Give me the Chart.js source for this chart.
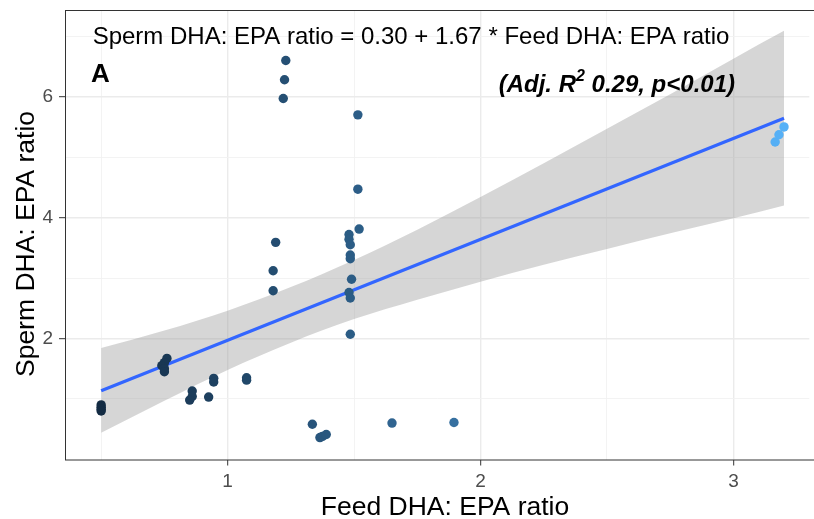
<!DOCTYPE html>
<html>
<head>
<meta charset="utf-8">
<script src="https://cdn.jsdelivr.net/npm/chart.js@4.4.1/dist/chart.umd.min.js"></script>
<style>
  html, body { margin: 0; padding: 0; background: #fff; }
</style>
</head>
<body>
<canvas id="chart_1" width="814" height="519"></canvas>
<script>
// points
const feedRatio = [
  0.50, 0.50, 0.50, 0.50,
  0.76, 0.75, 0.74, 0.75, 0.75,
  0.86, 0.86, 0.85, 0.925, 0.945, 0.945, 1.075, 1.075,
  1.19, 1.18, 1.18, 1.23, 1.225, 1.22,
  1.335, 1.365, 1.375, 1.39,
  1.48, 1.48, 1.485, 1.485, 1.485, 1.49, 1.48, 1.485, 1.485,
  1.515, 1.515, 1.52,
  1.65, 1.895,
  3.165, 3.18, 3.20,
];
const spermRatio = [
  0.90, 0.86, 0.83, 0.80,
  1.67, 1.60, 1.55, 1.50, 1.45,
  1.13, 1.04, 0.98, 1.03, 1.34, 1.28, 1.35, 1.31,
  3.59, 3.12, 2.79, 6.60, 6.28, 5.97,
  0.58, 0.36, 0.38, 0.41,
  3.72, 3.64, 3.55, 3.38, 3.32, 2.98, 2.76, 2.67, 2.07,
  5.70, 4.47, 3.81,
  0.60, 0.61,
  5.25, 5.37, 5.50,
];

// fitted line ends and confidence band
const fitX = [0.5, 3.2];
const fitY = [1.135, 5.644];
const bandX = [0.5, 0.75, 1.0, 1.25, 1.5, 1.75, 2.0, 2.25, 2.5, 2.75, 3.0, 3.2];
const bandUpper = [1.84, 2.13, 2.46, 2.85, 3.30, 3.80, 4.34, 4.90, 5.47, 6.04, 6.63, 7.09];
const bandLower = [0.44, 0.97, 1.48, 1.93, 2.32, 2.64, 2.94, 3.22, 3.48, 3.74, 3.99, 4.20];

// axes
const xMajor = [1, 2, 3];
const xMinor = [0.5, 1.5, 2.5];
const xTickLabels = ["1", "2", "3"];
const yMajor = [2, 4, 6];
const yMinor = [1, 3, 5, 7];
const yTickLabels = ["2", "4", "6"];

const xTitle = "Feed DHA: EPA ratio";
const yTitle = "Sperm DHA: EPA ratio";
const equationText = "Sperm DHA: EPA ratio = 0.30 + 1.67 * Feed DHA: EPA ratio";
const panelTag = "A";
const statsText = ["(Adj. R", "2", " 0.29, p<0.01)"];

const family = "'Liberation Sans', Arial, sans-serif";

function pointColour(v) {
  const lo = [19, 43, 67];
  const hi = [86, 177, 247];
  const min = Math.min(...feedRatio);
  const max = Math.max(...feedRatio);
  const t = (v - min) / (max - min);
  return "rgb(" + lo.map((c, i) => Math.round(c + (hi[i] - c) * t)).join(",") + ")";
}

function gridStyle(major) {
  return {
    color: (ctx) => (major.includes(ctx.tick.value) ? "#EBEBEB" : "#F2F2F2"),
    lineWidth: (ctx) => (major.includes(ctx.tick.value) ? 1.4 : 0.9),
    tickColor: (ctx) => (major.includes(ctx.tick.value) ? "#333333" : "rgba(0,0,0,0)"),
    tickLength: 6,
    tickWidth: 1,
  };
}

const panelPlugin = {
  id: "panel",
  afterDraw(chart) {
    const { ctx, chartArea } = chart;
    ctx.save();
    ctx.strokeStyle = "#333333";
    ctx.lineWidth = 1;
    ctx.strokeRect(chartArea.left + 0.5, chartArea.top + 0.5, chartArea.right - chartArea.left + 5, chartArea.bottom - chartArea.top);

    ctx.fillStyle = "#000000";
    ctx.textBaseline = "alphabetic";

    ctx.font = "24px " + family;
    ctx.textAlign = "center";
    ctx.fillText(equationText, 411, 43.5);

    ctx.font = "bold 26px " + family;
    ctx.textAlign = "left";
    ctx.fillText(panelTag, 91, 82);

    // right aligned stats text with a superscript
    const big = "italic bold 24px " + family;
    const small = "italic bold 16px " + family;
    ctx.font = big;
    const w0 = ctx.measureText(statsText[0]).width;
    const w2 = ctx.measureText(statsText[2]).width;
    ctx.font = small;
    const w1 = ctx.measureText(statsText[1]).width;
    let x = 735 - (w0 + w1 + w2);
    ctx.font = big;
    ctx.fillText(statsText[0], x, 92);
    x += w0;
    ctx.font = small;
    ctx.fillText(statsText[1], x, 81);
    x += w1;
    ctx.font = big;
    ctx.fillText(statsText[2], x, 92);

    // axis titles
    ctx.font = "26.5px " + family;
    ctx.textAlign = "center";
    ctx.fillText(xTitle, 445, 515);
    ctx.save();
    ctx.translate(34, 244);
    ctx.rotate(-Math.PI / 2);
    ctx.fillText(yTitle, 0, 0);
    ctx.restore();
    ctx.restore();
  },
};

const ctx_1 = document.getElementById("chart_1");

new Chart(ctx_1, {
  type: "scatter",
  data: {
    datasets: [
      {
        label: "points",
        data: feedRatio.map((v, i) => ({ x: v, y: spermRatio[i] })),
        backgroundColor: feedRatio.map(pointColour),
        borderWidth: 0,
        pointRadius: 4.7,
      },
      {
        type: "line",
        label: "fit",
        data: fitX.map((v, i) => ({ x: v, y: fitY[i] })),
        borderColor: "#3366FF",
        borderWidth: 3.2,
        pointRadius: 0,
        fill: false,
      },
      {
        type: "line",
        label: "lower",
        data: bandX.map((v, i) => ({ x: v, y: bandLower[i] })),
        borderWidth: 0,
        pointRadius: 0,
        cubicInterpolationMode: "monotone",
        fill: false,
      },
      {
        type: "line",
        label: "upper",
        data: bandX.map((v, i) => ({ x: v, y: bandUpper[i] })),
        borderWidth: 0,
        pointRadius: 0,
        cubicInterpolationMode: "monotone",
        backgroundColor: "rgba(153,153,153,0.4)",
        fill: "-1",
      },
    ],
  },
  options: {
    responsive: false,
    animation: false,
    devicePixelRatio: 1,
    layout: { padding: { top: 10, right: 0, left: 0, bottom: 0 } },
    plugins: {
      legend: { display: false },
      tooltip: { enabled: false },
    },
    scales: {
      x: {
        type: "linear",
        min: 0.357,
        max: 3.3,
        afterBuildTicks: (scale) => {
          scale.ticks = [...xMinor, ...xMajor].sort((a, b) => a - b).map((v) => ({ value: v }));
        },
        afterFit: (scale) => {
          scale.height = 59.5;
          scale.paddingLeft = 0;
          scale.paddingRight = 0;
        },
        ticks: {
          autoSkip: false,
          maxRotation: 0,
          padding: 5,
          color: "#4D4D4D",
          font: { family: family, size: 19 },
          callback: (v) => {
            const i = xMajor.indexOf(v);
            return i < 0 ? "" : xTickLabels[i];
          },
        },
        grid: gridStyle(xMajor),
        border: { display: false },
      },
      y: {
        type: "linear",
        min: -0.003,
        max: 7.435,
        afterBuildTicks: (scale) => {
          scale.ticks = [...yMinor, ...yMajor].sort((a, b) => a - b).map((v) => ({ value: v }));
        },
        afterFit: (scale) => {
          scale.width = 65;
          scale.paddingTop = 0;
          scale.paddingBottom = 0;
        },
        ticks: {
          autoSkip: false,
          padding: 6,
          color: "#4D4D4D",
          font: { family: family, size: 19 },
          callback: (v) => {
            const i = yMajor.indexOf(v);
            return i < 0 ? "" : yTickLabels[i];
          },
        },
        grid: gridStyle(yMajor),
        border: { display: false },
      },
    },
  },
  plugins: [panelPlugin],
});
</script>
</body>
</html>
